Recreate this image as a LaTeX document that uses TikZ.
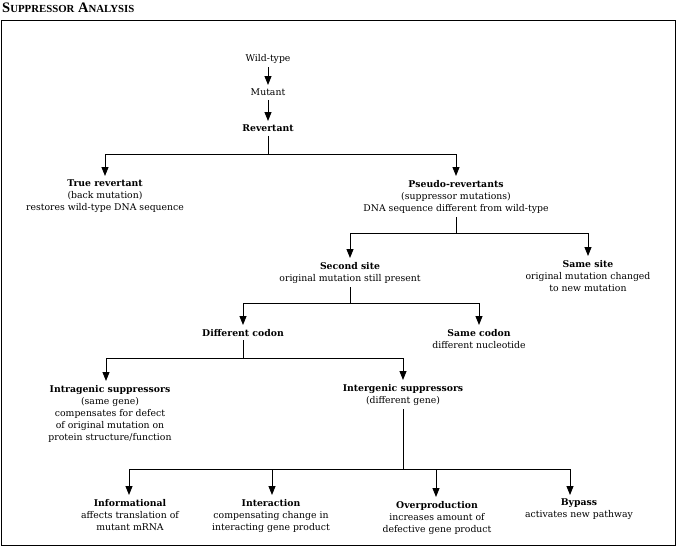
\documentclass[tikz,border=0pt]{standalone}
\usepackage{fontspec}
\setmainfont{DejaVu Serif}
\newfontfamily\headfont{Liberation Serif}
\usetikzlibrary{arrows.meta}
\newcommand{\smallcap}[1]{{\fontsize{10.8}{10}\selectfont #1}}
\begin{document}
\begin{tikzpicture}[
  x=1pt, y=-1pt,
  item/.style={align=center, font=\fontsize{9.3}{12}\selectfont, inner sep=1pt,
               outer ysep=3pt, anchor=north},
  link/.style={line width=0.9pt},
  arrow/.style={link, -{Triangle[width=7pt,length=9pt]}},
]
\useasboundingbox (0,0) rectangle (677,547);

% Frame and heading
\draw[link] (1,20) rectangle (675,545);
\node[anchor=west, inner sep=0pt, font=\fontsize{14.5}{14}\selectfont\headfont\bfseries] (head) at (2,8)
  {S\smallcap{UPPRESSOR} A\smallcap{NALYSIS}};

% Branch levels
\coordinate (l1) at (0,154);
\coordinate (l2) at (0,233);
\coordinate (l3) at (0,303);
\coordinate (l4) at (0,358);
\coordinate (l5) at (0,469);

% Top chain
\node[item] (wild) at (268,50) {Wild-type};
\node[item] (mut) at (268,85) {Mutant};
\node[item] (rev) at (268,121) {\textbf{Revertant}};
\draw[arrow] (wild.south) -- (mut.north);
\draw[arrow] (mut.south) -- (rev.north);

% Revertant types
\node[item] (true) at (105,176) {\textbf{True revertant}\\(back mutation)\\restores wild-type DNA sequence};
\node[item] (pseudo) at (456,176) {\textbf{Pseudo-revertants}\\(suppressor mutations)\\DNA sequence different from wild-type};
\draw[arrow] (rev.south) -- (rev.south |- l1) -| (true.north);
\draw[arrow] (rev.south) -- (rev.south |- l1) -| (pseudo.north);

% Site of suppressor
\node[item] (second) at (350,258) {\textbf{Second site}\\original mutation still present};
\node[item] (samesite) at (588,256) {\textbf{Same site}\\original mutation changed\\to new mutation};
\draw[arrow] (pseudo.south) -- (pseudo.south |- l2) -| (second.north);
\draw[arrow] (pseudo.south) -- (pseudo.south |- l2) -| (samesite.north);

% Codon
\node[item] (diffcodon) at (243,325) {\textbf{Different codon}};
\node[item] (samecodon) at (479,325) {\textbf{Same codon}\\different nucleotide};
\draw[arrow] (second.south) -- (second.south |- l3) -| (diffcodon.north);
\draw[arrow] (second.south) -- (second.south |- l3) -| (samecodon.north);

% Gene
\node[item] (intra) at (110,381) {\textbf{Intragenic suppressors}\\(same gene)\\compensates for defect\\of original mutation on\\protein structure/function};
\node[item] (inter) at (403,380) {\textbf{Intergenic suppressors}\\(different gene)};
\draw[arrow] (diffcodon.south) -- (diffcodon.south |- l4) -| ([xshift=-4pt]intra.north);
\draw[arrow] (diffcodon.south) -- (diffcodon.south |- l4) -| (inter.north);

% Intergenic mechanisms
\node[item] (info) at (130,495) {\textbf{Informational}\\affects translation of\\mutant mRNA};
\node[item] (interact) at (271,495) {\textbf{Interaction}\\compensating change in\\interacting gene product};
\node[item] (overprod) at (437,497) {\textbf{Overproduction}\\increases amount of\\defective gene product};
\node[item] (bypass) at (579,495) {\textbf{Bypass}\\activates new pathway};
\draw[link] (inter.south) -- (inter.south |- l5);
\foreach \n/\dx in {info/-1, interact/1, overprod/-1, bypass/-9}
  \draw[arrow] (inter.south |- l5) -| ([xshift=\dx pt]\n.north);

\end{tikzpicture}
\end{document}
